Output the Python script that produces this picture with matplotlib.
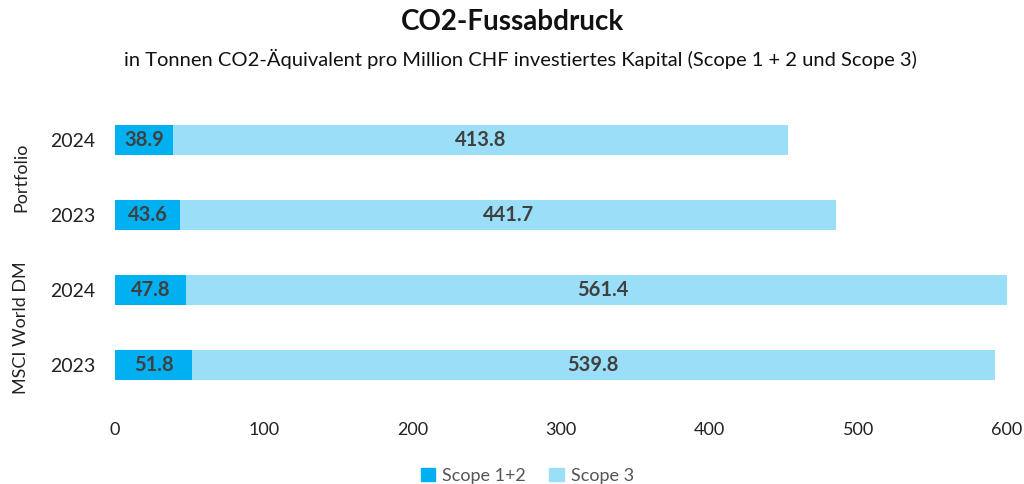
import matplotlib
matplotlib.use("Agg")
import matplotlib.pyplot as plt
from matplotlib.patches import Patch

plt.rcParams['font.family'] = ['Lato', 'DejaVu Sans']

groups = ["MSCI World DM", "MSCI World DM", "Portfolio", "Portfolio"]
years = ["2023", "2024", "2023", "2024"]
scope12 = [51.8, 47.8, 43.6, 38.9]
scope3 = [539.8, 561.4, 441.7, 413.8]
series_names = ["Scope 1+2", "Scope 3"]
xticks = [0, 100, 200, 300, 400, 500, 600]

c1 = "#00B0F0"
c2 = "#9BDEF8"
txt = "#404040"

fig = plt.figure(figsize=(10.24, 4.84), dpi=100)
ax = fig.add_axes([115/1024, 1-402.5/484, 892/1024, 300/484])

pos = list(range(len(scope12)))
ax.barh(pos, scope12, height=0.4, color=c1)
ax.barh(pos, scope3, left=scope12, height=0.4, color=c2)
for p, a, b in zip(pos, scope12, scope3):
    ax.text(a/2, p, f"{a:.1f}", ha="center", va="center", fontsize=14.5, fontweight="bold", color=txt)
    ax.text(a + b/2, p, f"{b:.1f}", ha="center", va="center", fontsize=14.5, fontweight="bold", color=txt)

ax.set_xlim(0, 600)
ax.set_ylim(-0.5, 3.5)
ax.set_xticks(xticks)
ax.set_xticklabels([str(t) for t in xticks], fontsize=13, color="#222222")
ax.set_yticks(pos)
ax.set_yticklabels(years, fontsize=14, color="#222222")
ax.tick_params(length=0, pad=14, axis="y")
ax.tick_params(length=0, pad=14, axis="x")
for s in ax.spines.values():
    s.set_visible(False)

# group labels
for g in ["Portfolio", "MSCI World DM"]:
    idx = [i for i, x in enumerate(groups) if x == g]
    yc = sum(idx) / len(idx)
    ax.text(-0.105, yc, g, transform=ax.get_yaxis_transform(), rotation=90,
            ha="center", va="center", fontsize=13, color="#222222")

fig.text(0.5, 0.955, "CO2-Fussabdruck", ha="center", va="center", fontsize=20, fontweight="bold", color="#111111")
fig.text(0.508, 0.878, "in Tonnen CO2-Äquivalent pro Million CHF investiertes Kapital (Scope 1 + 2 und Scope 3)",
         ha="center", va="center", fontsize=14.5, color="#111111")

handles = [Patch(color=c1), Patch(color=c2)]
fig.legend(handles, series_names, loc="center", bbox_to_anchor=(0.515, 0.017), ncol=2, frameon=False,
           fontsize=13, handlelength=0.8, handleheight=0.8, handletextpad=0.4, columnspacing=1.3,
           labelcolor="#555555")

fig.savefig("out.png", dpi=100)
